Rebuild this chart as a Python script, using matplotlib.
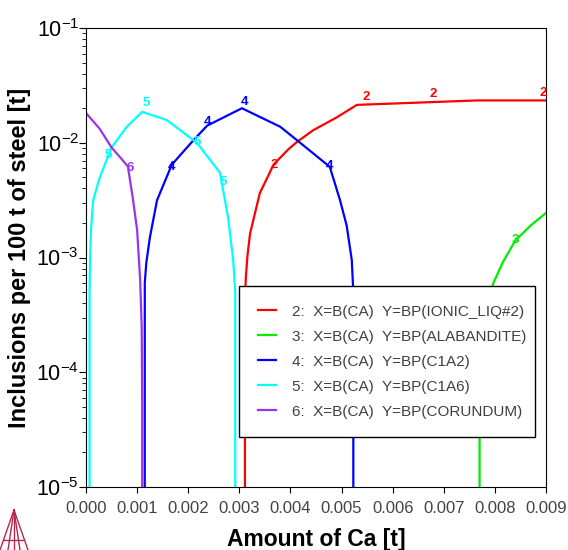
import matplotlib
matplotlib.use("Agg")
import matplotlib.pyplot as plt
from matplotlib.lines import Line2D
from matplotlib.ticker import LogLocator, FixedLocator, NullFormatter

plt.rcParams["font.family"] = ["Liberation Sans", "DejaVu Sans"]
plt.rcParams["mathtext.fontset"] = "custom"
plt.rcParams["mathtext.rm"] = "Liberation Sans"
plt.rcParams["mathtext.it"] = "Liberation Sans:italic"
plt.rcParams["mathtext.bf"] = "Liberation Sans:bold"

# amount of Ca [t] vs inclusions per 100 t of steel [t]
x2 = [0.00311, 0.00311, 0.00313, 0.00316, 0.00321, 0.00340, 0.00367, 0.00395, 0.00413, 0.00445, 0.00490, 0.00530, 0.00765, 0.00900]
y2 = [1e-5, 0.00045, 0.0007, 0.00105, 0.00162, 0.00363, 0.00646, 0.0087, 0.0102, 0.0129, 0.0166, 0.0214, 0.0234, 0.0234]

x3 = [0.00770, 0.00770, 0.00773, 0.00780, 0.00797, 0.00815, 0.00840, 0.00870, 0.00900]
y3 = [1e-5, 0.00013, 0.0002, 0.0003, 0.0006, 0.0009, 0.00141, 0.00190, 0.00245]

x4 = [0.00115, 0.00115, 0.00118, 0.00125, 0.00139, 0.00168, 0.00210, 0.00237, 0.00305, 0.00380, 0.00419, 0.00477, 0.00497, 0.00510, 0.00520, 0.00523, 0.00523]
y4 = [1e-5, 0.0006, 0.0009, 0.0015, 0.00316, 0.00646, 0.0105, 0.0141, 0.0200, 0.0138, 0.0100, 0.00617, 0.00316, 0.0019, 0.00095, 0.0005, 1e-5]

x5 = [0.00007, 0.00007, 0.00008, 0.00010, 0.00014, 0.00027, 0.00050, 0.00080, 0.00110, 0.00158, 0.00217, 0.00262, 0.00278, 0.00288, 0.00292, 0.00292]
y5 = [1e-5, 0.0005, 0.0010, 0.00178, 0.00316, 0.0050, 0.0091, 0.0138, 0.0186, 0.0158, 0.0100, 0.0055, 0.00224, 0.00095, 0.0005, 1e-5]

x6 = [0.0, 0.00027, 0.00050, 0.00070, 0.00082, 0.00092, 0.00100, 0.00106, 0.00109, 0.00110, 0.00110]
y6 = [0.0182, 0.0132, 0.0091, 0.0072, 0.0062, 0.0032, 0.00174, 0.00063, 0.00025, 0.00005, 1e-5]

names = ["2:  X=B(CA)  Y=BP(IONIC_LIQ#2)", "3:  X=B(CA)  Y=BP(ALABANDITE)",
         "4:  X=B(CA)  Y=BP(C1A2)", "5:  X=B(CA)  Y=BP(C1A6)",
         "6:  X=B(CA)  Y=BP(CORUNDUM)"]
colors = ["#ff0000", "#00ee00", "#0000ff", "#00ffff", "#9933ee"]

# curve number labels
lab_txt = ["2", "2", "2", "2", "3", "4", "4", "4", "4", "5", "5", "5", "5", "6"]
lab_x = [0.00368, 0.00548, 0.00679, 0.00894, 0.00840, 0.00168, 0.00237, 0.00311, 0.00477, 0.00117, 0.00043, 0.00217, 0.00268, 0.00086]
lab_y = [0.00646, 0.0251, 0.0266, 0.0272, 0.00141, 0.00617, 0.0151, 0.0229, 0.0063, 0.0224, 0.0079, 0.0102, 0.00457, 0.0060]
lab_c = ["#ff0000"] * 4 + ["#00ee00"] + ["#0000ff"] * 4 + ["#00ffff"] * 4 + ["#9933ee"]

fig = plt.figure(figsize=(5.68, 5.5), dpi=100)
ax = fig.add_axes([0.1514, 0.1145, 0.8099, 0.8345])

for xs, ys, c, n in zip([x2, x3, x4, x5, x6], [y2, y3, y4, y5, y6], colors, names):
    ax.plot(xs, ys, color=c, lw=1.6, label=n)

for t, xx, yy, c in zip(lab_txt, lab_x, lab_y, lab_c):
    ax.text(xx, yy, t, color=c, fontsize=9.5, fontweight="bold", ha="center", va="center")

ax.set_yscale("log")
ax.set_xlim(0, 0.009)
ax.set_ylim(1e-5, 1e-1)
ax.xaxis.set_major_locator(FixedLocator([i * 0.001 for i in range(10)]))
ax.set_xticklabels(["%.3f" % (i * 0.001) for i in range(10)])
ax.yaxis.set_minor_locator(LogLocator(base=10, subs=range(2, 10), numticks=20))
ax.yaxis.set_minor_formatter(NullFormatter())
ax.set_yticks([1e-5, 1e-4, 1e-3, 1e-2, 1e-1])
ax.set_yticklabels([r"$10^{-5}$", r"$10^{-4}$", r"$10^{-3}$", r"$10^{-2}$", r"$10^{-1}$"])

ax.tick_params(axis="x", labelsize=12, labelcolor="#444444", length=4, direction="out", pad=6)
ax.tick_params(axis="y", which="major", labelsize=15.5, length=5, direction="out", pad=0)
ax.tick_params(axis="y", which="minor", length=3, direction="out")
ax.tick_params(right=False, top=False)

ax.set_xlabel("Amount of Ca [t]", fontsize=16.5, fontweight="bold", labelpad=9)
ax.set_ylabel("Inclusions per 100 t of steel [t]", fontsize=17, fontweight="bold", labelpad=4)

leg = ax.legend(loc="lower left", bbox_to_anchor=(0.333, 0.109, 0.643, 0.331), mode="expand",
                fontsize=11, frameon=True, fancybox=False, edgecolor="black", framealpha=1,
                handlelength=1.2, handletextpad=1.05, borderpad=1.2, labelspacing=0.72,
                borderaxespad=0)
leg.get_frame().set_linewidth(1.0)
for t in leg.get_texts():
    t.set_color("#404040")

# Thermo-Calc style logo, bottom left
logo = "#b5284e"
apex = (14 / 568, 1 - 510 / 550)
for bx in [0 / 568, 8 / 568, 20 / 568, 28 / 568]:
    fig.add_artist(Line2D([apex[0], bx], [apex[1], 0], color=logo, lw=1.0))
fig.add_artist(Line2D([apex[0], apex[0]], [apex[1], 0], color=logo, lw=1.0))
fig.add_artist(Line2D([4 / 568, 24 / 568], [1 - 540 / 550, 1 - 540 / 550], color=logo, lw=1.0))

fig.savefig("out.png", dpi=100)
